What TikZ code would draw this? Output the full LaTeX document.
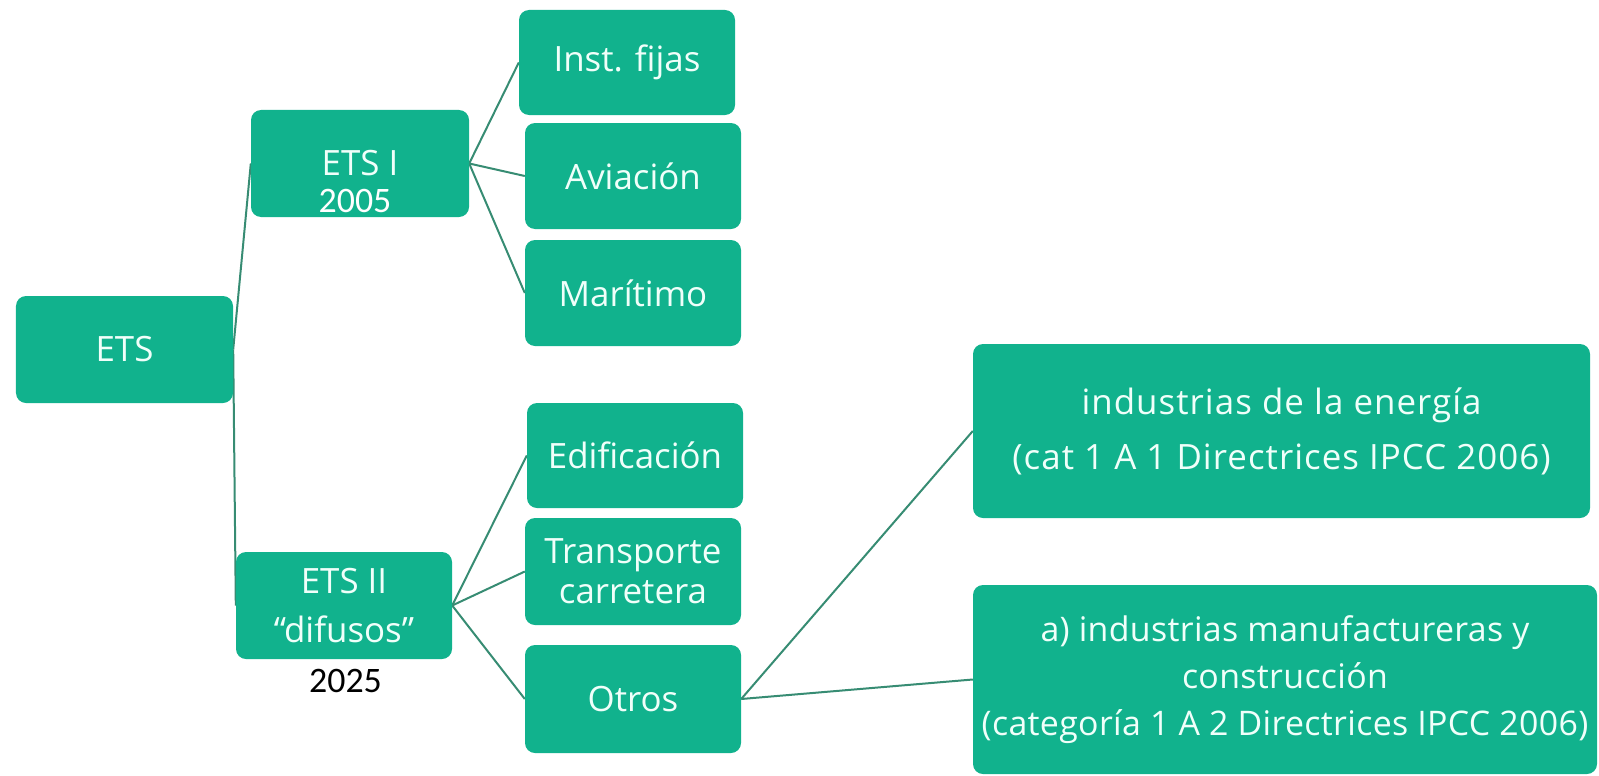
\documentclass[tikz,border=0pt]{standalone}
\usepackage{fontspec}
\setmainfont{Open Sans}
\newfontfamily\calfont{Carlito}
\newfontfamily\widefont[LetterSpace=3]{Open Sans}
\newfontfamily\midfont[LetterSpace=1]{Open Sans}
\usetikzlibrary{backgrounds}
\definecolor{boxfill}{RGB}{17,178,141}
\definecolor{linkcol}{RGB}{55,140,115}
\definecolor{txtcol}{RGB}{240,255,250}
\tikzset{
  box/.style={fill=boxfill, draw=none, rounded corners=10bp, text=txtcol, align=center, inner sep=0pt,
    font=\fontsize{35}{46}\selectfont},
  link/.style={draw=linkcol, line width=2bp},
  yearlbl/.style={font=\calfont\fontsize{36}{40}\selectfont, inner sep=0pt}
}
\begin{document}
\begin{tikzpicture}[x=1bp,y=-1bp]
\useasboundingbox (0,0) rectangle (1599,776);
\node[box, minimum width=217bp, minimum height=107bp] (ets) at (124.5,349.5) {ETS};
\node[box, minimum width=218bp, minimum height=107bp] (etsI) at (360,163.5) {ETS I};
\node[yearlbl, text=white] (y2005) at (355,201) {2005};
\node[box, minimum width=216bp, minimum height=105bp] (fijas) at (627,62.5) {Inst. fijas};
\node[box, minimum width=216bp, minimum height=106bp] (avia) at (633,176) {Aviación};
\node[box, minimum width=216bp, minimum height=106bp] (mari) at (633,293) {Marítimo};
\node[box, minimum width=216bp, minimum height=105bp] (edif) at (635,455.5) {Edificación};
\node[box, minimum width=216bp, minimum height=107bp, font=\fontsize{35}{40}\selectfont] (trans) at (633,571.5) {Transporte\\carretera};
\node[box, minimum width=216bp, minimum height=108bp] (otros) at (633,699) {Otros};
\node[box, minimum width=216bp, minimum height=107bp, font=\fontsize{35}{50}\selectfont] (etsII) at (344,605.5) {ETS II\\“difusos”};
\node[yearlbl, text=black] (y2025) at (345.5,681) {2025};
\node[box, minimum width=617bp, minimum height=174bp, font=\widefont\fontsize{35}{55}\selectfont] (energ) at (1281.5,431) {industrias de la energía\\(cat 1 A 1 Directrices IPCC 2006)};
\node[box, minimum width=624bp, minimum height=189bp, font=\midfont\fontsize{34}{47}\selectfont] (manuf) at (1285,679.5) {a) industrias manufactureras y\\construcción\\(categoría 1 A 2 Directrices IPCC 2006)};
\begin{scope}[on background layer]
\draw[link] (ets.east) -- (etsI.west);
\draw[link] (ets.east) -- (etsII.west);
\draw[link] (etsI.east) -- (fijas.west);
\draw[link] (etsI.east) -- (avia.west);
\draw[link] (etsI.east) -- (mari.west);
\draw[link] (etsII.east) -- (edif.west);
\draw[link] (etsII.east) -- (trans.west);
\draw[link] (etsII.east) -- (otros.west);
\draw[link] (otros.east) -- (energ.west);
\draw[link] (otros.east) -- (manuf.west);
\end{scope}
\end{tikzpicture}
\end{document}
